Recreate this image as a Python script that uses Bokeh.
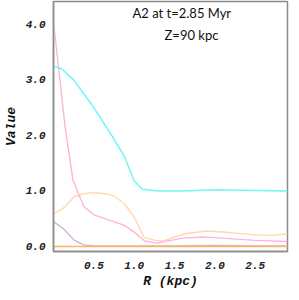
from bokeh.plotting import figure
from bokeh.models import FixedTicker, PrintfTickFormatter, Range1d, Label
from bokeh.embed import file_html
from bokeh.resources import INLINE

# Data
cyan_r = [0.0, 0.1, 0.25, 0.4, 0.5, 0.7, 0.88, 1.0, 1.1, 1.3, 1.6, 2.0, 2.5, 2.9]
cyan_v = [3.25, 3.2, 3.0, 2.7, 2.5, 2.05, 1.62, 1.18, 1.03, 1.0, 1.0, 1.02, 1.01, 1.0]

pink_r = [0.0, 0.14, 0.24, 0.375, 0.5, 0.7, 0.88, 1.0, 1.13, 1.28, 1.6, 1.85, 2.0, 2.5, 2.9]
pink_v = [4.05, 2.2, 1.2, 0.72, 0.57, 0.47, 0.38, 0.26, 0.1, 0.06, 0.15, 0.17, 0.16, 0.11, 0.09]

peach_r = [0.0, 0.13, 0.26, 0.375, 0.5, 0.64, 0.75, 0.88, 1.0, 1.12, 1.26, 1.36, 1.63, 1.9, 2.1, 2.5, 2.72, 2.9]
peach_v = [0.58, 0.7, 0.9, 0.95, 0.97, 0.95, 0.91, 0.77, 0.53, 0.17, 0.11, 0.1, 0.23, 0.28, 0.26, 0.21, 0.2, 0.23]

purple_r = [0.0, 0.13, 0.26, 0.375, 0.5, 1.0, 1.5, 2.0, 2.5, 2.9]
purple_v = [0.45, 0.31, 0.11, 0.03, 0.01, 0.01, 0.01, 0.02, 0.01, 0.01]

orange_r = [0.0, 2.9]
orange_v = [0.0, 0.0]

x_ticks = [0.5, 1.0, 1.5, 2.0, 2.5]
y_ticks = [0.0, 1.0, 2.0, 3.0, 4.0]

p = figure(width=290, height=291, output_backend="svg", toolbar_location=None,
           x_range=Range1d(0.0, 2.9), y_range=Range1d(-0.09, 4.41),
           min_border_left=31, min_border_right=3, min_border_top=1, min_border_bottom=22)

p.line(purple_r, purple_v, line_color="#d2aee0", line_width=1.4)
p.line(orange_r, orange_v, line_color="#f9b75e", line_width=1.6)
p.line(peach_r, peach_v, line_color="#ffd8ac", line_width=1.4)
p.line(pink_r, pink_v, line_color="#ffb4de", line_width=1.4)
p.line(cyan_r, cyan_v, line_color="#70f6f6", line_width=1.5)

p.xgrid.visible = False
p.ygrid.visible = False
p.outline_line_color = "#8c8c8c"
p.outline_line_width = 1.5

for ax in (p.xaxis[0], p.yaxis[0]):
    ax.axis_line_color = "#8c8c8c"
    ax.axis_line_width = 1.5
    ax.major_tick_line_color = None
    ax.minor_tick_line_color = None
    ax.formatter = PrintfTickFormatter(format="%.1f")
    ax.major_label_text_font = "Liberation Mono"
    ax.major_label_text_font_style = "bold italic"
    ax.major_label_text_font_size = "11px"
    ax.major_label_text_color = "#222222"
    ax.axis_label_text_font = "Liberation Mono"
    ax.axis_label_text_font_style = "bold italic"
    ax.axis_label_text_font_size = "13px"
    ax.axis_label_text_color = "#111111"

p.xaxis.ticker = FixedTicker(ticks=x_ticks)
p.yaxis.ticker = FixedTicker(ticks=y_ticks)
p.xaxis.axis_label = "R (kpc)"
p.yaxis.axis_label = "Value"
p.xaxis.major_label_standoff = 4
p.yaxis.major_label_standoff = 2
p.xaxis.axis_label_standoff = 2
p.yaxis.axis_label_standoff = 4

p.add_layout(Label(x=1.59, y=4.2, text="A2 at t=2.85 Myr", text_align="center",
                   text_baseline="middle", text_font="Lato", text_font_size="13px",
                   text_color="#111111"))
p.add_layout(Label(x=1.71, y=3.8, text="Z=90 kpc", text_align="center",
                   text_baseline="middle", text_font="Lato", text_font_size="13px",
                   text_color="#111111"))

open("out.html", "w").write(file_html(p, INLINE))
